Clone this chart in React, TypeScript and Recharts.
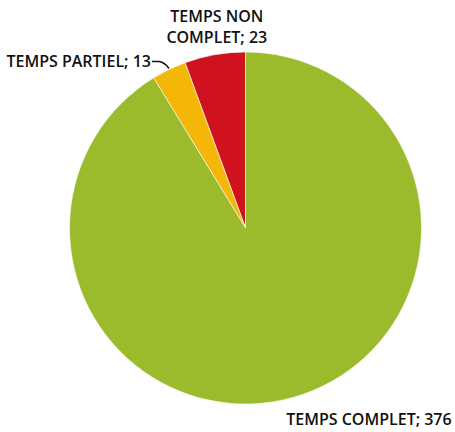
import { PieChart, Pie, Cell } from 'recharts';

// catégories et effectifs
const categories = ['TEMPS NON COMPLET', 'TEMPS PARTIEL', 'TEMPS COMPLET'];
const values = [23, 13, 376];
const COLORS = ['#d0121f', '#f4b708', '#9bbb2c'];

const data = categories.map((name, i) => ({ name, value: values[i] }));

const RAD = Math.PI / 180;
const FONT = '"Open Sans", sans-serif';

const renderLabel = ({ cx, cy, midAngle, outerRadius, index }: any) => {
  const px = cx + outerRadius * Math.cos(-midAngle * RAD);
  const py = cy + outerRadius * Math.sin(-midAngle * RAD);
  const common = { fill: '#111', fontSize: 16, fontFamily: FONT, fontWeight: 600 };

  if (index === 0) {
    return (
      <text x={px + 2} y={py - 33} textAnchor="middle" {...common}>
        <tspan x={px + 2}>TEMPS NON</tspan>
        <tspan x={px + 2} dy={21}>COMPLET; 23</tspan>
      </text>
    );
  }
  if (index === 1) {
    return (
      <g>
        <path
          d={`M${px - 17},${py - 8} L${px - 10},${py - 8} Q${px - 4},${py - 7} ${px},${py - 1}`}
          stroke="#111"
          strokeWidth={1.5}
          fill="none"
        />
        <text x={px - 18} y={py - 3} textAnchor="end" {...common}>
          {`${categories[index]}; ${values[index]}`}
        </text>
      </g>
    );
  }
  return (
    <text x={px - 7} y={py + 28} textAnchor="start" {...common}>
      {`${categories[index]}; ${values[index]}`}
    </text>
  );
};

export default function App() {
  return (
    <div style={{ width: 455, height: 432, background: '#fff' }}>
      <style>{`body{margin:0}`}</style>
      <PieChart width={455} height={432} margin={{ top: 0, right: 0, bottom: 0, left: 0 }}>
        <Pie
          data={data}
          dataKey="value"
          cx={245.5}
          cy={228}
          outerRadius={176}
          startAngle={90}
          endAngle={450}
          stroke="#fff"
          strokeWidth={0.6}
          label={renderLabel}
          labelLine={false}
          isAnimationActive={false}
        >
          {data.map((entry, index) => (
            <Cell key={`cell-${index}`} fill={COLORS[index]} />
          ))}
        </Pie>
      </PieChart>
    </div>
  );
}
